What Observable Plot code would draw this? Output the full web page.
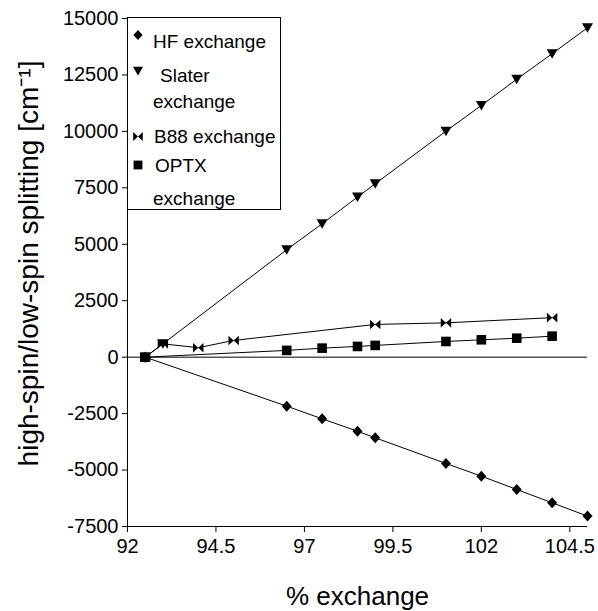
<!DOCTYPE html>
<html>
<head>
<meta charset="utf-8">
<script src="https://cdn.jsdelivr.net/npm/d3@7"></script>
<script src="https://cdn.jsdelivr.net/npm/@observablehq/plot@0.6"></script>
<style>
  html, body { margin: 0; padding: 0; background: white; }
  #wrap { position: relative; width: 598px; height: 611px; font-family: "Liberation Sans", Arial, Helvetica, sans-serif; }
  #wrap > svg { position: absolute; left: 0; top: 0; }
</style>
</head>
<body>
<div id="wrap"></div>
<script>
// ---- data ----
const seriesNames = ["HF exchange", "Slater exchange", "B88 exchange", "OPTX exchange"];
const hfX = [92.5, 96.5, 97.5, 98.5, 99, 101, 102, 103, 104, 105];
const hfY = [0, -2170, -2730, -3280, -3570, -4710, -5270, -5860, -6450, -7040];
const slaterX = [92.5, 93, 96.5, 97.5, 98.5, 99, 101, 102, 103, 104, 105];
const slaterY = [0, 590, 4760, 5910, 7090, 7680, 10010, 11150, 12310, 13440, 14590];
const b88X = [92.5, 93, 94, 95, 99, 101, 104];
const b88Y = [0, 590, 420, 740, 1450, 1520, 1750];
const optxX = [92.5, 96.5, 97.5, 98.5, 99, 101, 102, 103, 104];
const optxY = [0, 300, 400, 475, 520, 695, 770, 840, 930];
const xTicks = [92, 94.5, 97, 99.5, 102, 104.5];
const yTicks = [-7500, -5000, -2500, 0, 2500, 5000, 7500, 10000, 12500, 15000];
const xLabel = "% exchange";
const yLabel = "high-spin/low-spin splitting [cm\u207B\u00B9]";

// ---- symbols (r-relative, r = 5) ----
const unit = size => Math.sqrt(size / Math.PI) / 5;
const symDiamond = { draw(ctx, size) { const k = unit(size);
  ctx.moveTo(0, -5.5*k); ctx.lineTo(5*k, 0); ctx.lineTo(0, 5.5*k); ctx.lineTo(-5*k, 0); ctx.closePath(); } };
const symTriDown = { draw(ctx, size) { const k = unit(size);
  ctx.moveTo(-5.5*k, -4.5*k); ctx.lineTo(5.5*k, -4.5*k); ctx.lineTo(0, 5*k); ctx.closePath(); } };
const symBowtie = { draw(ctx, size) { const k = unit(size);
  ctx.moveTo(-5.2*k, -4.8*k); ctx.lineTo(0, 0); ctx.lineTo(-5.2*k, 4.8*k); ctx.closePath();
  ctx.moveTo(5.2*k, -4.8*k); ctx.lineTo(0, 0); ctx.lineTo(5.2*k, 4.8*k); ctx.closePath(); } };
const symSquare = { draw(ctx, size) { const k = unit(size);
  ctx.rect(-4.8*k, -4.8*k, 9.6*k, 9.6*k); } };

const series = [
  {name: seriesNames[0], xs: hfX, ys: hfY, sym: symDiamond},
  {name: seriesNames[1], xs: slaterX, ys: slaterY, sym: symTriDown},
  {name: seriesNames[2], xs: b88X, ys: b88Y, sym: symBowtie},
  {name: seriesNames[3], xs: optxX, ys: optxY, sym: symSquare}
].map(s => ({...s, rows: s.xs.map((x, i) => ({x, y: s.ys[i]}))}));

const font = '"Liberation Sans", Arial, Helvetica, sans-serif';

const marks = [
  Plot.ruleY([0], {stroke: "black", strokeWidth: 1}),
  Plot.ruleX([92], {stroke: "black", strokeWidth: 1}),
  Plot.ruleY([-7500], {stroke: "black", strokeWidth: 1}),
  Plot.axisX({ticks: xTicks, tickSize: 6, tickPadding: 6, tickFormat: d => String(d), fontSize: 20, label: null}),
  Plot.axisY({ticks: yTicks, tickSize: 5, tickPadding: 4, tickFormat: d => String(d), fontSize: 20, label: null}),
  Plot.text([xLabel], {frameAnchor: "bottom", lineAnchor: "middle", textAnchor: "middle", dy: 70, fontSize: 26, fill: "black"}),
  Plot.text([yLabel], {frameAnchor: "left", lineAnchor: "middle", textAnchor: "middle", dx: -98, dy: -9, rotate: -90, fontSize: 28, fill: "black"})
];
for (const s of series) {
  marks.push(Plot.line(s.rows, {x: "x", y: "y", stroke: "black", strokeWidth: 1}));
  marks.push(Plot.dot(s.rows, {x: "x", y: "y", symbol: s.sym, r: 5, fill: "black", stroke: "none"}));
}

const chart = Plot.plot({
  width: 598,
  height: 611,
  marginLeft: 127,
  marginRight: 11,
  marginTop: 18,
  marginBottom: 85,
  x: {domain: [92, 105]},
  y: {domain: [-7500, 15000]},
  style: {fontFamily: font, color: "black", background: "white", overflow: "visible"},
  marks
});
const wrap = document.getElementById("wrap");
wrap.appendChild(chart);

// ---- legend overlay ----
const leg = d3.create("svg").attr("width", 598).attr("height", 230)
  .style("font-family", font);
leg.append("rect").attr("x", 127.5).attr("y", 17.5).attr("width", 153).attr("height", 192)
  .attr("fill", "white").attr("stroke", "black").attr("stroke-width", 1);
const legItems = [
  {sym: symDiamond, my: 35, lines: [{t: "HF exchange", x: 153, y: 48}]},
  {sym: symTriDown, my: 71, lines: [{t: "Slater", x: 160, y: 82}, {t: "exchange", x: 153, y: 108}]},
  {sym: symBowtie, my: 136.5, lines: [{t: "B88 exchange", x: 154, y: 143}]},
  {sym: symSquare, my: 165, lines: [{t: "OPTX", x: 155, y: 172}, {t: "exchange", x: 153, y: 205}]}
];
legItems.forEach((it, i) => {
  leg.append("path").attr("d", d3.symbol(it.sym, Math.PI * 4.6 * 4.6)())
    .attr("transform", `translate(138,${it.my})`).attr("fill", "black");
  it.lines.forEach(l => leg.append("text").attr("x", l.x).attr("y", l.y)
    .attr("font-size", 19).attr("fill", "black").text(l.t));
});
wrap.appendChild(leg.node());
</script>
</body>
</html>
